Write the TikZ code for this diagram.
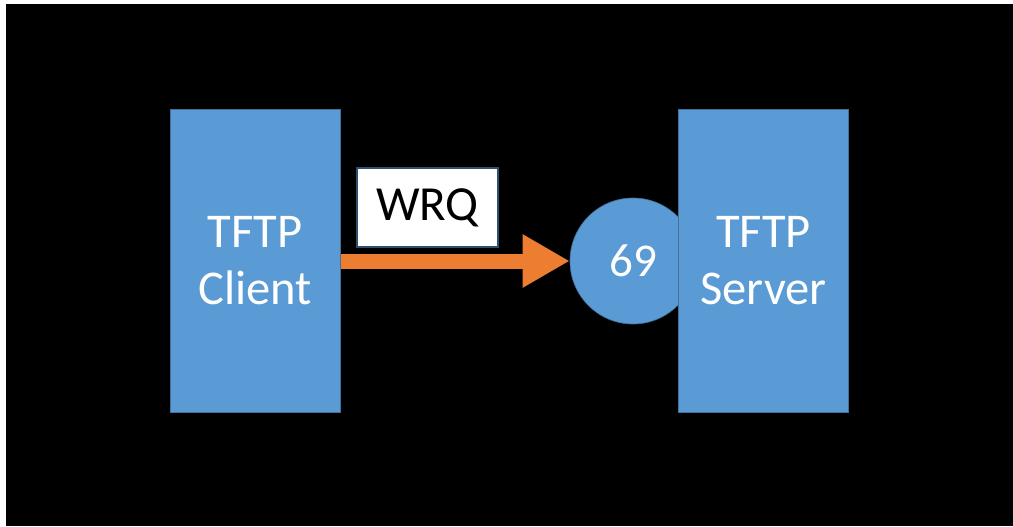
\documentclass[tikz,border=0pt]{standalone}
\usepackage{fontspec}
\setmainfont{Carlito}
\usetikzlibrary{arrows.meta}
\definecolor{boxblue}{HTML}{5B9BD5}
\definecolor{boxedge}{HTML}{41719C}
\definecolor{arroworange}{HTML}{ED7D31}
\tikzset{
  hostbox/.style={rectangle, fill=boxblue, draw=boxedge, line width=1pt,
    minimum width=170pt, minimum height=302pt, inner sep=0pt,
    text=white, align=center, font=\fontsize{48.5}{57}\selectfont},
  portcircle/.style={circle, fill=boxblue, draw=boxedge, line width=0.6pt,
    minimum size=126pt, inner sep=0pt, text=white, font=\fontsize{47}{54}\selectfont},
  msgbox/.style={rectangle, fill=white, draw=boxedge!70!black, line width=1.2pt,
    minimum width=141pt, minimum height=79pt, inner sep=0pt,
    text=black, font=\fontsize{49}{58}\selectfont},
  flowarrow/.style={draw=arroworange, line width=15pt,
    -{Triangle[width=50pt,length=47pt]}, shorten <=0.5pt}
}
\begin{document}
\begin{tikzpicture}[x=1pt,y=-1pt]
\useasboundingbox (0,0) rectangle (1013,527);
\fill[white] (0,0) rectangle (1013,527);
\fill[black] (6,4) rectangle (1013,526);
\node[hostbox] (client) at (255,261) {TFTP\\Client};
\node[portcircle] (port) at (633,261) {69};
\node[hostbox] (server) at (763.5,261) {TFTP\\Server};
\node[msgbox] (wrq) at (427.5,207.5) {WRQ};
\draw[flowarrow] (client.east) -- (port.west);
\end{tikzpicture}
\end{document}
